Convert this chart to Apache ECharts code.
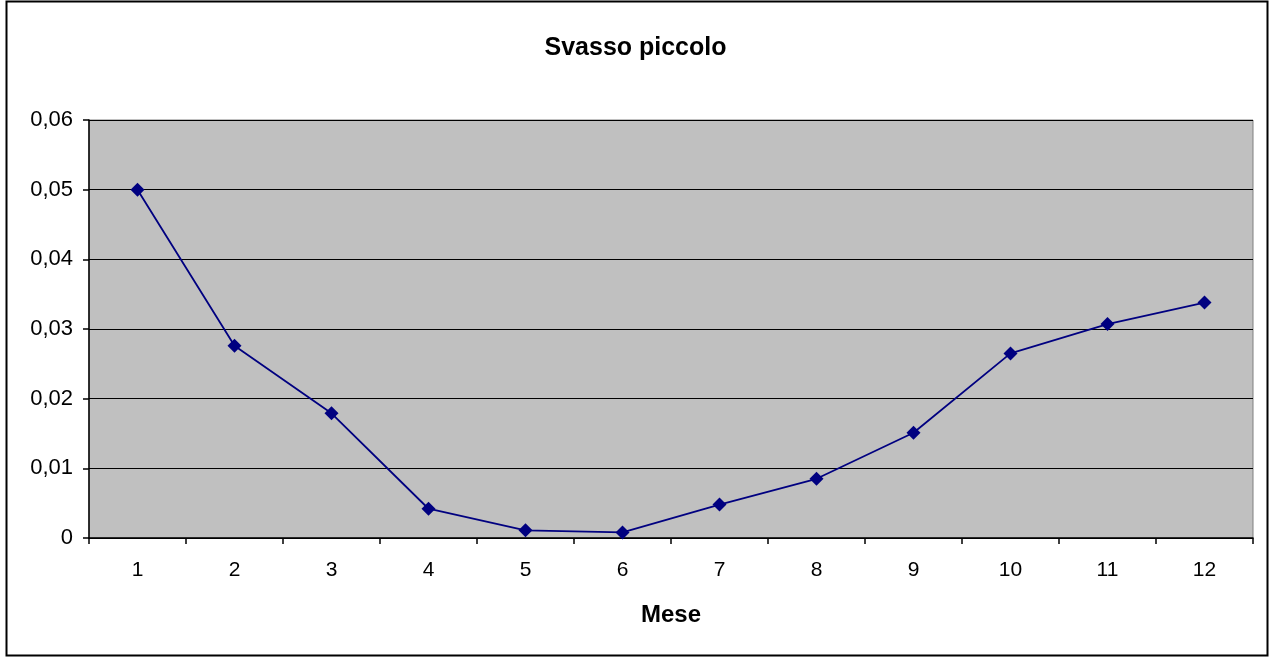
<!DOCTYPE html>
<html>
<head>
<meta charset="utf-8">
<script src="https://cdn.jsdelivr.net/npm/echarts@6/dist/echarts.min.js"></script>
<style>html,body{margin:0;padding:0;background:#fff}#c{width:1271px;height:657px}</style>
</head>
<body>
<div id="c"></div>
<script>
const months = ['1','2','3','4','5','6','7','8','9','10','11','12'];
const values = [0.05, 0.0276, 0.0179, 0.0042, 0.0011, 0.0008, 0.0048, 0.0085, 0.0151, 0.0265, 0.0307, 0.0338];
const titleText = 'Svasso piccolo';
const xName = 'Mese';

const chart = echarts.init(document.getElementById('c'), null, {renderer:'canvas'});
const font = '"Liberation Sans", Arial, sans-serif';
chart.setOption({
  animation: false,
  backgroundColor: '#fff',
  title: {
    text: titleText, left: 'center', top: 31,
    textStyle: {fontFamily: font, fontSize: 25, fontWeight: 'bold', color: '#000'}
  },
  graphic: [{
    type: 'rect', shape: {x: 6.5, y: 1.5, width: 1261, height: 654},
    style: {fill: 'none', stroke: '#000', lineWidth: 2}, silent: true, z: 100
  }],
  grid: {
    left: 89, right: 18, top: 120, bottom: 119,
    show: true, backgroundColor: '#C0C0C0', borderColor: '#808080', borderWidth: 1
  },
  xAxis: {
    type: 'category', data: months, boundaryGap: true,
    name: xName, nameLocation: 'middle', nameGap: 65,
    nameTextStyle: {fontFamily: font, fontSize: 24, fontWeight: 'bold', color: '#000'},
    axisLine: {lineStyle: {color: '#000', width: 1.5}},
    axisTick: {show: true, inside: false, length: 6, alignWithLabel: false, lineStyle: {color: '#000', width: 1.5}},
    axisLabel: {fontFamily: font, fontSize: 21, color: '#000', margin: 22},
    splitLine: {show: false}
  },
  yAxis: {
    type: 'value', min: 0, max: 0.06, interval: 0.01,
    axisLine: {show: true, lineStyle: {color: '#000', width: 1.5}},
    axisTick: {show: true, length: 6, lineStyle: {color: '#000', width: 1.5}},
    axisLabel: {fontFamily: font, fontSize: 22, color: '#000', margin: 16,
      formatter: v => v === 0 ? '0' : v.toFixed(2).replace('.', ',')},
    splitLine: {show: true, lineStyle: {color: '#000', width: 1.2}}
  },
  series: [{
    type: 'line', data: values,
    symbol: 'diamond', symbolSize: 14,
    lineStyle: {color: '#000080', width: 1.8},
    itemStyle: {color: '#000080'}
  }]
});
</script>
</body>
</html>
